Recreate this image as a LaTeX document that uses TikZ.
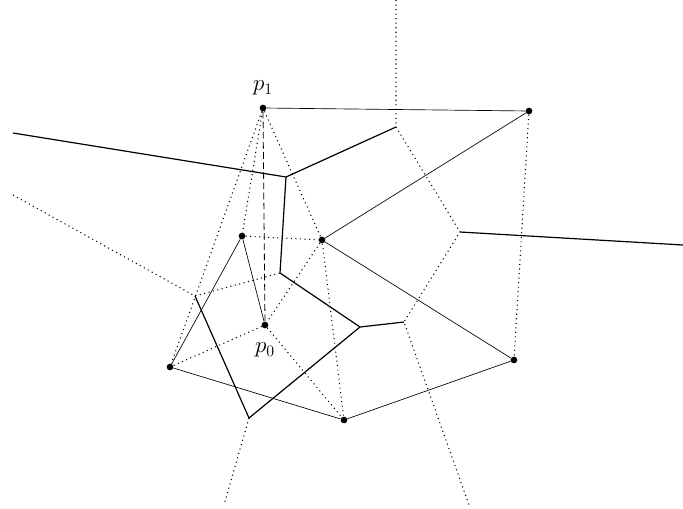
\documentclass[tikz,border=0pt]{standalone}
\begin{document}
\begin{tikzpicture}[x=0.75pt,y=-0.75pt,
        site/.style={circle,fill=black,inner sep=0pt,minimum size=5pt},
        cell/.style={line width=0.9pt},
        edge/.style={line width=0.5pt},
        tri/.style={line width=0.8pt,dash pattern=on 0.8pt off 2.6pt},
        split/.style={line width=0.6pt,dash pattern=on 5pt off 2.6pt}]
        \useasboundingbox (0,0) rectangle (683,508);
        % Define the sites
        \node[site] (p1) at (263,108) {};
        \node[site] (a)  at (529,111) {};
        \node[site] (b)  at (242,236) {};
        \node[site] (c)  at (322,240) {};
        \node[site] (p0) at (265,325) {};
        \node[site] (d)  at (170,367) {};
        \node[site] (e)  at (514,360) {};
        \node[site] (f)  at (344,420) {};
        \node[above=6pt] (lp1) at (p1) {\LARGE $p_1$};
        \node[below=10pt] (lp0) at (p0) {\LARGE $p_0$};
        % Define the cell vertices
        \coordinate (v1)  at (13,133);
        \coordinate (v2)  at (286,177);
        \coordinate (v3)  at (396,127);
        \coordinate (v4)  at (280,273);
        \coordinate (v5)  at (360,327);
        \coordinate (v6)  at (404,322);
        \coordinate (v7)  at (249,418);
        \coordinate (v8)  at (195,296);
        \coordinate (v9)  at (460,232);
        \coordinate (v10) at (683,245);
        \coordinate (t1)  at (396,0);
        \coordinate (t2)  at (469,505);
        \coordinate (t3)  at (13,195);
        \coordinate (t4)  at (224,505);
        % Connect the sites
        \draw[edge] (p1) -- (a) -- (c) -- (e) -- (f) -- (d) -- (b) -- (p0);
        \draw[tri] (p1) -- (d);
        \draw[tri] (p1) -- (b);
        \draw[tri] (p1) -- (c);
        \draw[tri] (b) -- (c);
        \draw[tri] (c) -- (p0);
        \draw[tri] (c) -- (f);
        \draw[tri] (p0) -- (d);
        \draw[tri] (p0) -- (f);
        \draw[tri] (a) -- (e);
        \draw[split] (p1) -- (p0);
        % Connect the cell vertices
        \draw[cell] (v1) -- (v2) -- (v3);
        \draw[cell] (v2) -- (v4) -- (v5) -- (v6);
        \draw[cell] (v5) -- (v7) -- (v8);
        \draw[cell] (v9) -- (v10);
        \draw[tri] (t1) -- (v3) -- (v9) -- (v6) -- (t2);
        \draw[tri] (t3) -- (v8) -- (v4);
        \draw[tri] (v7) -- (t4);
\end{tikzpicture}
\end{document}
